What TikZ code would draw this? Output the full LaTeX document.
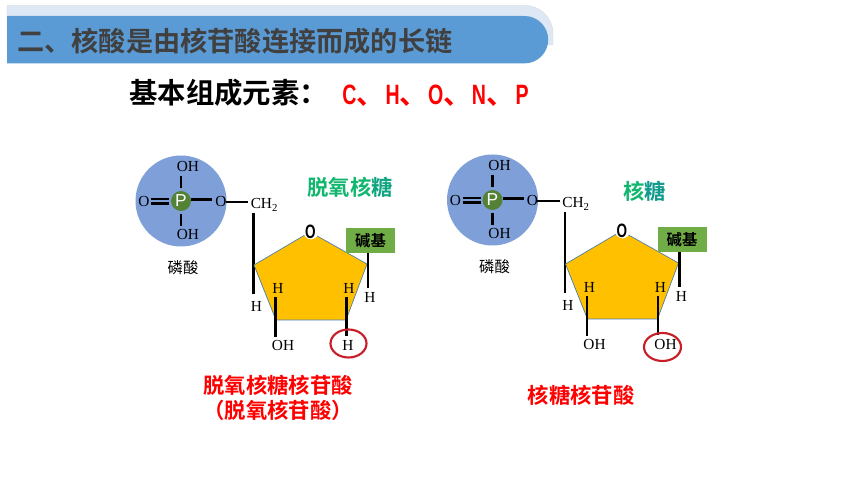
\documentclass[tikz,border=0pt]{standalone}
\usepackage{fontspec}
\setmainfont{Liberation Serif}
\newfontfamily\cjk{Noto Sans CJK SC}
\newfontfamily\cjkb{Noto Sans CJK SC Bold}
\newfontfamily\hei{Liberation Sans}
\newfontfamily\narrowb{Liberation Sans Bold}[FakeStretch=0.7]
\definecolor{bandblue}{HTML}{5B9BD5}
\definecolor{bandpale}{HTML}{DEE8F4}
\definecolor{titlegrey}{HTML}{404040}
\definecolor{discblue}{HTML}{7F9FD9}
\definecolor{pgreen}{HTML}{548235}
\definecolor{sugar}{HTML}{FFC000}
\definecolor{basegreen}{HTML}{70AD47}
\definecolor{sugargreen}{HTML}{12B76F}
\definecolor{sugarteal}{HTML}{0F9A8C}
\definecolor{ringred}{HTML}{C81E28}
\tikzset{
  chem/.style={font=\fontsize{11.5}{12}\selectfont,inner sep=0pt,text=black},
  bond/.style={line width=2.2pt,black},
  capt/.style={font=\cjk\fontsize{11.5}{12}\selectfont,inner sep=0pt,text=black},
  redcapt/.style={font=\cjkb\fontsize{16}{19}\selectfont,inner sep=0pt,text=red,align=center},
}
\newcommand{\lett}[1]{\makebox[10.8pt][c]{\narrowb\fontsize{21}{22}\selectfont #1}}
\newcommand{\dunh}{\makebox[21.6pt][l]{\cjkb\fontsize{21}{22}\selectfont 、}}
% #1 prefix, #2 x shift, #3 y shift, #4 text y, #5 text x
\newcommand{\molecule}[5]{%
\begin{scope}[shift={(#2,#3)}]
  \node[circle,fill=discblue,minimum size=68.25pt,inner sep=0pt] (#1disc) at (181,201) {};
  \node[circle,fill=pgreen,minimum size=15pt,inner sep=0pt,text=white,font=\hei\fontsize{13}{13}\selectfont] (#1p) at (181,201) {P};
  \node[chem] (#1oha) at (188,167) {OH};
  \node[chem] (#1ohb) at (188,235) {OH};
  \node[chem] (#1ol) at (144,202) {O};
  \node[chem] (#1or) at (221,202) {O};
  \node[chem,anchor=west] (#1ch) at (250.5,205) {CH\textsubscript{2}};
  \draw[bond] (181,176) -- (181,188);
  \draw[bond] (181,214) -- (181,226);
  \draw[line width=1.7pt] (151,199.3) -- (169,199.3);
  \draw[line width=1.7pt] (151,203.5) -- (169,203.5);
  \draw[bond] (#1p.east) ++(0,-1.5) -- ++(21,0);
  \draw[bond] (#1or.east) ++(-1,0) -- (248,202);
  \draw[bond] (253.5,213) -- (253.5,294);
  \node[chem] (#1hl) at (256.5,306) {H};
  \path[fill=sugar,draw=black!20!bandblue,line width=.5pt] (310,232) -- (367,264) -- (346,320) -- (276,320) -- (254,265) -- cycle;
  \node[circle,fill=white,inner sep=0pt,minimum width=9pt,minimum height=11pt] (#1ring) at (311,232) {};
  \node[font=\narrowb\fontsize{14.5}{14}\selectfont,inner sep=0pt] (#1o) at (310.5,232) {O};
  \node[fill=basegreen,minimum width=36.75pt,minimum height=18.75pt,inner sep=0pt,font=\cjkb\fontsize{11.5}{12}\selectfont,text=black] (#1base) at (370.5,240.5) {碱基};
  \draw[bond] (#1base.south) ++(-2.5,0) -- ++(0,35);
  \node[chem] (#1hr) at (370,297) {H};
  \node[chem] (#1hia) at (278,288) {H};
  \node[chem] (#1hib) at (349,288) {H};
  \draw[bond] (275.5,297) -- (275.5,337);
  \draw[bond] (346.5,297) -- (346.5,336);
  \node[chem] (#1oh) at (283,345) {OH};
  \node[chem] (#1low) at (#5,#4) {\lowtext};
  \node[capt] (#1cap) at (183,268) {磷酸};
\end{scope}}
\begin{document}
\begin{tikzpicture}[x=0.75pt,y=-0.75pt]
\useasboundingbox (0,0) rectangle (860,484);
\fill[white] (0,0) rectangle (860,484);
% banner
\path[fill=bandpale,draw=black!15,line width=.3pt] (7,5.5) -- (525,5.5) arc[start angle=-90,end angle=0,radius=28] -- (553,45) -- (7,45) -- cycle;
\path[fill=bandblue] (7,16) -- (524.5,16) arc[start angle=-90,end angle=90,radius=23.7] -- (7,63.4) -- cycle;
\node[anchor=west,inner sep=0pt,text=titlegrey,font=\cjkb\fontsize{20.4}{22}\selectfont] (title) at (17,41.5) {二、核酸是由核苷酸连接而成的长链};
\node[anchor=west,inner sep=0pt,font=\cjkb\fontsize{21.3}{22}\selectfont] (elem) at (129,93) {基本组成元素：};
\node[anchor=west,inner sep=0pt,text=red] (list) at (342,95.5) {\lett{C}\dunh\lett{H}\dunh\lett{O}\dunh\lett{N}\dunh\lett{P}};
\def\lowtext{H}
\molecule{a}{0}{0}{345}{348}
\def\lowtext{OH}
\molecule{b}{311.5}{-1}{345}{354}
\node[inner sep=0pt,font=\cjkb\fontsize{16}{18}\selectfont] (sa) at (350,187) {\textcolor{sugargreen}{脱氧核}\textcolor{sugarteal!60!sugargreen}{糖}};
\node[inner sep=0pt,font=\cjkb\fontsize{16}{18}\selectfont] (sb) at (644.5,191) {\textcolor{sugargreen}{核}\textcolor{sugarteal}{糖}};
\draw[ringred,line width=1.6pt] (348.5,343.5) ellipse[x radius=18,y radius=14];
\draw[ringred,line width=1.6pt] (662.5,347) ellipse[x radius=18.5,y radius=14];
\node[redcapt] (ca) at (278,398) {脱氧核糖核苷酸\\（脱氧核苷酸）};
\node[redcapt] (cb) at (581,395) {核糖核苷酸};
\end{tikzpicture}
\end{document}
